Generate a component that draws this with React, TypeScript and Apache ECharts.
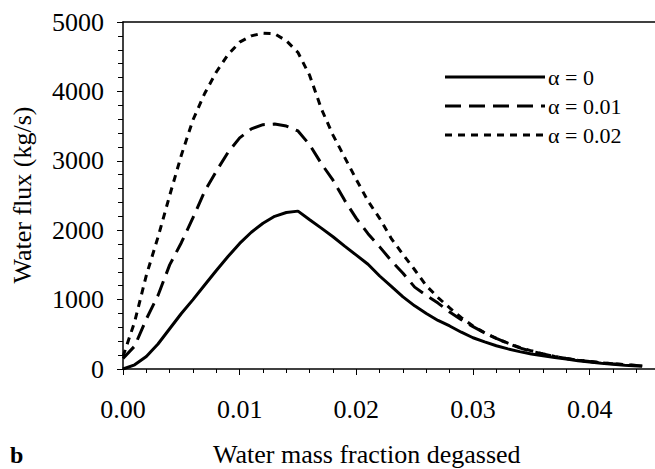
import React, { useEffect, useRef } from "react";
import * as echarts from "echarts";

const xValues = [
  0, 0.001, 0.002, 0.003, 0.004, 0.005, 0.006, 0.007, 0.008, 0.009, 0.01,
  0.011, 0.012, 0.013, 0.014, 0.015, 0.016, 0.017, 0.018, 0.019, 0.02,
  0.021, 0.022, 0.023, 0.024, 0.025, 0.026, 0.027, 0.028, 0.029, 0.03,
  0.031, 0.032, 0.033, 0.034, 0.035, 0.036, 0.037, 0.038, 0.039, 0.04,
  0.041, 0.042, 0.043, 0.0445,
];

const fluxAlpha0 = [
  0, 60, 180, 360, 580, 800, 1000, 1210, 1420, 1620, 1810,
  1970, 2100, 2200, 2255, 2275, 2150, 2030, 1905, 1770, 1640,
  1510, 1340, 1190, 1040, 910, 800, 700, 620, 530, 450,
  390, 335, 290, 250, 215, 190, 165, 145, 120, 100,
  82, 67, 55, 40,
];

const fluxAlpha001 = [
  150, 330, 720, 1060, 1500, 1820, 2180, 2560, 2850, 3120, 3330,
  3460, 3520, 3530, 3500, 3430, 3230, 2960, 2720, 2430, 2170,
  1950, 1760, 1560, 1380, 1180, 1060, 950, 820, 710, 610,
  520, 440, 370, 305, 255, 215, 180, 152, 128, 108,
  90, 74, 62, 45,
];

const fluxAlpha002 = [
  180, 680, 1350, 1900, 2500, 3080, 3590, 3970, 4280, 4530, 4710,
  4800, 4840, 4830, 4730, 4560, 4230, 3750, 3370, 3050, 2730,
  2420, 2170, 1880, 1650, 1430, 1200, 1030, 880, 740, 620,
  520, 440, 372, 312, 262, 218, 182, 152, 128, 108,
  90, 74, 62, 45,
];

const seriesNames = ["α = 0", "α = 0.01", "α = 0.02"];
const yTicks = [0, 1000, 2000, 3000, 4000, 5000];

const FONT = "Liberation Serif";
const DASHES: any[] = [null, [16, 8], [7, 6]];

export default function App() {
  const ref = useRef<HTMLDivElement>(null);

  useEffect(() => {
    document.body.style.margin = "0";
    if (!ref.current) return;
    const chart = echarts.init(ref.current, null, { renderer: "svg" });
    const pairs = (ys: number[]) => xValues.map((x, i) => [x, ys[i]]);
    const lineSeries = (name: string, ys: number[], type: any) => ({
      name,
      type: "line",
      data: pairs(ys),
      symbol: "none",
      showSymbol: false,
      smooth: false,
      color: "#000",
      lineStyle: { color: "#000", width: 3, type },
      emphasis: { disabled: true },
    });

    const legendGraphics: any[] = [];
    seriesNames.forEach((name, i) => {
      const y = 77 + i * 29;
      legendGraphics.push({
        type: "line",
        shape: { x1: 445, y1: y, x2: 545, y2: y },
        style: {
          stroke: "#000",
          lineWidth: 3,
          lineDash: DASHES[i] || undefined,
        },
      });
      legendGraphics.push({
        type: "text",
        x: 548,
        y: y,
        style: {
          text: name,
          font: `22px "${FONT}"`,
          fill: "#000",
          textAlign: "left",
          textVerticalAlign: "middle",
        },
      });
    });

    chart.setOption({
      animation: false,
      backgroundColor: "#fff",
      grid: { left: 123, right: 0, top: 22, bottom: 100, containLabel: false },
      xAxis: [
        {
          type: "value",
          min: 0,
          max: 0.0456,
          interval: 0.01,
          axisLine: { show: true, lineStyle: { color: "#000", width: 1.5 } },
          axisTick: { show: true, length: 6, lineStyle: { color: "#000", width: 1 } },
          minorTick: { show: true, splitNumber: 5, length: 4, lineStyle: { color: "#000", width: 1 } },
          splitLine: { show: false },
          axisLabel: {
            margin: 27,
            showMaxLabel: false,
            fontFamily: FONT,
            fontSize: 26,
            color: "#000",
            formatter: (v: number) => v.toFixed(2),
          },
        },
        {
          type: "value",
          position: "top",
          min: 0,
          max: 0.0456,
          axisLine: { show: true, onZero: false, lineStyle: { color: "#000", width: 1.5 } },
          axisTick: { show: false },
          axisLabel: { show: false },
          splitLine: { show: false },
        },
      ],
      yAxis: {
        type: "value",
        min: yTicks[0],
        max: yTicks[yTicks.length - 1],
        interval: 1000,
        axisLine: { show: true, lineStyle: { color: "#000", width: 1.5 } },
        axisTick: { show: true, length: 6, lineStyle: { color: "#000", width: 1 } },
        minorTick: { show: true, splitNumber: 5, length: 5, lineStyle: { color: "#000", width: 1 } },
        splitLine: { show: false },
        axisLabel: {
          margin: 19,
          fontFamily: FONT,
          fontSize: 26,
          color: "#000",
          formatter: (v: number) => String(v),
        },
      },
      graphic: [
        ...legendGraphics,
        {
          type: "text",
          left: 213,
          top: 441,
          style: {
            text: "Water mass fraction degassed",
            font: `26px "${FONT}"`,
            fill: "#000",
          },
        },
        {
          type: "text",
          x: 22,
          y: 195,
          rotation: Math.PI / 2,
          style: {
            text: "Water flux (kg/s)",
            font: `26px "${FONT}"`,
            fill: "#000",
            textAlign: "center",
            textVerticalAlign: "middle",
          },
        },
        {
          type: "text",
          left: 10,
          top: 443,
          style: {
            text: "b",
            font: `bold 24px "${FONT}"`,
            fill: "#000",
          },
        },
      ],
      series: [
        lineSeries(seriesNames[0], fluxAlpha0, "solid"),
        lineSeries(seriesNames[1], fluxAlpha001, [16, 8]),
        lineSeries(seriesNames[2], fluxAlpha002, [7, 6]),
      ],
    });
    return () => chart.dispose();
  }, []);

  return <div ref={ref} style={{ width: 655, height: 469 }} />;
}
